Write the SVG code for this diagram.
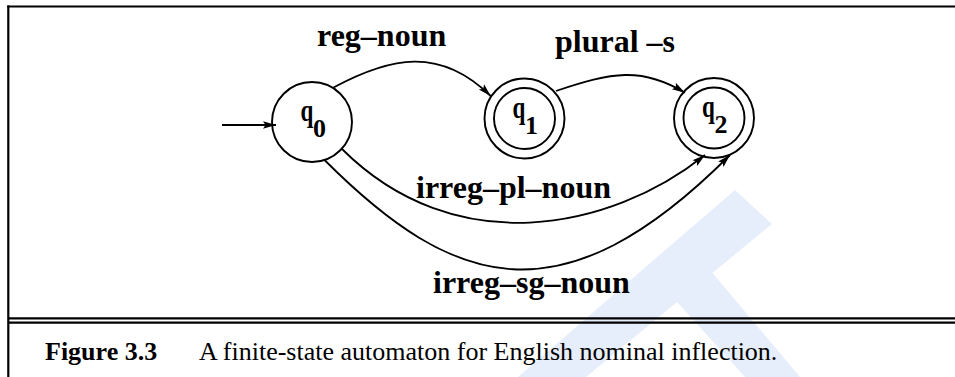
<svg xmlns="http://www.w3.org/2000/svg" width="955" height="377" viewBox="0 0 955 377">
<style>
  .frame { stroke: #000; stroke-width: 2.2; fill: none; }
  .state { stroke: #000; stroke-width: 1.9; fill: none; }
  .edge { stroke: #000; stroke-width: 1.8; fill: none; marker-end: url(#ah); }
  .lbl { font-family: "Liberation Serif", "Times New Roman", serif; font-weight: bold; font-size: 32px; fill: #000; }
  .q { font-family: "Liberation Serif", "Times New Roman", serif; font-weight: bold; font-size: 32px; fill: #000; }
  .sub { font-family: "Liberation Serif", "Times New Roman", serif; font-weight: bold; font-size: 26px; fill: #000; }
  .cap { font-family: "Liberation Serif", "Times New Roman", serif; font-size: 26px; fill: #000; }
  .wm { fill: #e7eefb; stroke: none; }
</style>
<defs>
  <marker id="ah" markerUnits="userSpaceOnUse" markerWidth="16" markerHeight="10" viewBox="-14 -5 16 10" refX="0" refY="0" orient="auto">
    <path d="M0,0 L-13,-3.8 L-10.5,0 L-13,3.8 Z" fill="#000"/>
  </marker>
</defs>
<rect width="955" height="377" fill="#fff"/>
<g id="watermark">
  <path class="wm" d="M518,377 L735,190 L772,224 L586,377 Z"/>
  <path class="wm" d="M700,258 L800,377 L745,377 L668,292 Z"/>
</g>
<g id="frame">
  <line class="frame" x1="7.2" y1="6.5" x2="955" y2="6.5"/>
  <line class="frame" x1="8.3" y1="5.4" x2="8.3" y2="377"/>
  <line class="frame" x1="8" y1="318.3" x2="955" y2="318.3"/>
  <line class="frame" x1="8" y1="322.7" x2="955" y2="322.7"/>
</g>
<g id="connectors">
  <path id="e-start" class="edge" d="M222,125 L276,125"/>
  <path id="e-reg" class="edge" d="M333.5,87.5 C390,57 440,46 490.7,96"/>
  <path id="e-plural" class="edge" d="M556,91 C611.9,72.4 641.1,66.4 685,92.7"/>
  <path id="e-irregpl" class="edge" d="M342,149 C454.2,260.9 609.7,231.2 705,155"/>
  <path id="e-irregsg" class="edge" d="M324.5,160 C454.5,290 562,323 730,155"/>
</g>
<g id="edge-labels">
  <text class="lbl" x="317" y="46">reg–noun</text>
  <text class="lbl" x="555" y="52">plural –s</text>
  <text class="lbl" x="416" y="198">irreg–pl–noun</text>
  <text class="lbl" x="433" y="293">irreg–sg–noun</text>
</g>
<g id="q0">
  <circle class="state" cx="312" cy="122" r="40"/>
  <text class="q" transform="translate(300.5,121) scale(0.72,1)">q</text>
  <text class="sub" x="313" y="136.5">0</text>
</g>
<g id="q1">
  <circle class="state" cx="524.5" cy="118.5" r="40"/>
  <circle class="state" cx="524.5" cy="118.5" r="30.5"/>
  <text class="q" transform="translate(512.5,117.5) scale(0.72,1)">q</text>
  <text class="sub" x="525" y="133.5">1</text>
</g>
<g id="q2">
  <circle class="state" cx="714" cy="118" r="40"/>
  <circle class="state" cx="714" cy="118" r="30.5"/>
  <text class="q" transform="translate(702,117) scale(0.72,1)">q</text>
  <text class="sub" x="714.5" y="133">2</text>
</g>
<g id="caption">
  <text class="cap" x="45" y="360" font-weight="bold">Figure 3.3</text>
  <text class="cap" x="199" y="360">A finite-state automaton for English nominal inflection.</text>
</g>
</svg>
